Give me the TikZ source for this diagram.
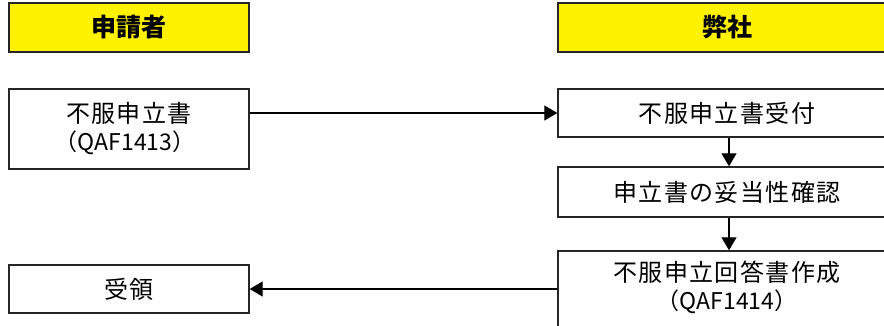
\documentclass[tikz,border=0pt]{standalone}
\usepackage{fontspec}
\setmainfont{Noto Sans CJK JP}
\usetikzlibrary{arrows.meta}
\begin{document}
\begin{tikzpicture}[x=1pt,y=-1pt,
  box/.style={draw=black!85,line width=1.4pt,fill=white},
  head/.style={draw=black!85,line width=1.4pt,fill=yellow},
  lbl/.style={font=\fontsize{24}{30}\selectfont\addfontfeatures{LetterSpace=6},align=center,inner sep=0pt},
  code/.style={font=\fontsize{23}{30}\selectfont,align=center,inner sep=0pt},
  hlbl/.style={font=\fontsize{25}{28}\selectfont\bfseries,inner sep=0pt},
  conn/.style={line width=1.3pt,-{Triangle[width=15pt,length=13pt]}}]
\useasboundingbox (0,0) rectangle (884,326);
\clip (0,0) rectangle (884,326);
% headers
\draw[head] (9,3) rectangle (249,52);
\draw[head] (558,3) rectangle (896,52);
\node[hlbl] (h1) at (129,27) {申請者};
\node[hlbl] (h2) at (727,27) {弊社};
% left boxes
\node[box,minimum width=240pt,minimum height=80pt,inner sep=0pt] (a) at (129,129) {};
\node[lbl] (at) at (129,113) {不服申立書};
\node[code] (at2) at (125,143) {（QAF1413）};
\node[box,minimum width=240pt,minimum height=48pt,inner sep=0pt] (e) at (129,289) {};
\node[lbl] at (129,289) {受領};
% right boxes
\node[box,minimum width=338pt,minimum height=48pt,inner sep=0pt] (b) at (727,113) {};
\node[lbl] at (727,113) {不服申立書受付};
\node[box,minimum width=338pt,minimum height=50pt,inner sep=0pt] (c) at (727,192) {};
\node[lbl] at (727,192) {申立書の妥当性確認};
\node[box,minimum width=338pt,minimum height=100pt,inner sep=0pt] (d) at (727,301) {};
\node[lbl] at (727,272) {不服申立回答書作成};
\node[code] at (727,302) {（QAF1414）};
% connectors
\coordinate (bw) at (b.west);
\draw[conn] (a.east |- bw) -- (bw);
\draw[conn] (b.south -| 729,0) -- (c.north -| 729,0);
\draw[conn] (c.south -| 729,0) -- (d.north -| 729,0);
\coordinate (ew) at (e.east);
\draw[conn] (d.west |- ew) -- (ew);
\end{tikzpicture}
\end{document}
